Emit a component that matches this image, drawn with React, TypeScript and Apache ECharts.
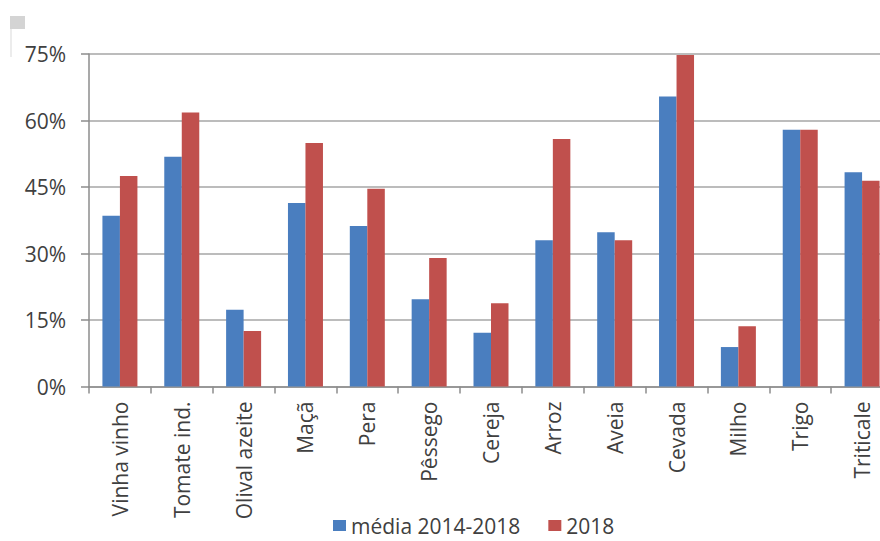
import React, { useEffect, useRef } from "react";
import * as echarts from "echarts";

const categories = ["Vinha vinho", "Tomate ind.", "Olival azeite", "Maçã", "Pera", "Pêssego", "Cereja", "Arroz", "Aveia", "Cevada", "Milho", "Trigo", "Triticale"];
const media = [38.5, 51.8, 17.3, 41.4, 36.2, 19.7, 12.1, 33.0, 34.8, 65.4, 8.9, 57.9, 48.3];
const ano2018 = [47.5, 61.8, 12.5, 54.9, 44.6, 29.0, 18.8, 55.8, 33.0, 74.8, 13.6, 57.9, 46.4];
const seriesNames = ["média 2014-2018", "2018"];

export default function App() {
  const ref = useRef<HTMLDivElement>(null);
  useEffect(() => {
    const chart = echarts.init(ref.current!, null, { renderer: "svg" });
    const font = "'Open Sans', 'Noto Sans', sans-serif";
    chart.setOption({
      animation: false,
      backgroundColor: "#ffffff",
      grid: { left: 89, top: 54, right: 7, bottom: 154.5, containLabel: false },
      legend: {
        left: 333,
        top: 515,
        padding: 0,
        itemWidth: 13,
        itemHeight: 11,
        itemGap: 28,
        icon: "rect",
        textStyle: { fontFamily: font, fontSize: 21, lineHeight: 21, color: "#404040" },
        data: seriesNames,
      },
      xAxis: {
        type: "category",
        data: categories,
        axisLine: { lineStyle: { color: "#8c8c8c", width: 1.5 } },
        axisTick: { show: true, length: 7, lineStyle: { color: "#8c8c8c", width: 1.5 } },
        axisLabel: {
          rotate: 90,
          interval: 0,
          margin: 15,
          fontFamily: font,
          fontSize: 21,
          color: "#404040",
        },
      },
      yAxis: {
        type: "value",
        min: 0,
        max: 75,
        interval: 15,
        axisLine: { show: true, lineStyle: { color: "#8c8c8c", width: 1.5 } },
        axisTick: { show: true, length: 8, lineStyle: { color: "#8c8c8c", width: 1.5 } },
        splitLine: { lineStyle: { color: "#a6a6a6", width: 1.5 } },
        axisLabel: {
          formatter: "{value}%",
          margin: 23,
          fontFamily: font,
          fontSize: 21,
          color: "#404040",
        },
      },
      series: [
        {
          name: seriesNames[0],
          type: "bar",
          data: media,
          barWidth: 17.5,
          barGap: "0%",
          itemStyle: { color: "#4a7ebf" },
        },
        {
          name: seriesNames[1],
          type: "bar",
          data: ano2018,
          barWidth: 17.5,
          barGap: "0%",
          itemStyle: { color: "#c0504d" },
        },
      ],
      graphic: [
        { type: "rect", left: 10, top: 16, shape: { width: 15, height: 13 }, style: { fill: "#d4d4d4" } },
        { type: "rect", left: 10, top: 29, shape: { width: 2, height: 28 }, style: { fill: "#ececec" } },
      ],
    });
    return () => chart.dispose();
  }, []);
  return (
    <div style={{ position: "absolute", left: 0, top: 0, width: 880, height: 541, overflow: "hidden", background: "#fff" }}>
      <div ref={ref} style={{ width: 900, height: 541 }} />
    </div>
  );
}
